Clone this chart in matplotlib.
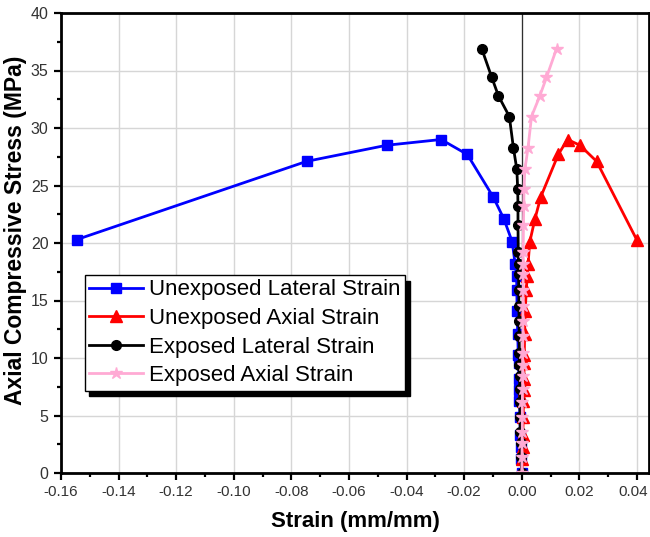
import matplotlib
matplotlib.use("Agg")
import matplotlib.pyplot as plt
import matplotlib.transforms as mtransforms
from matplotlib.ticker import MultipleLocator, FormatStrFormatter

plt.rcParams['font.family'] = ['Liberation Sans', 'DejaVu Sans']
plt.rcParams['axes.unicode_minus'] = False

# unexposed specimen: stress (MPa) with lateral / axial strain (mm/mm)
unexp_stress = [0, 1.2, 2.3, 3.3, 4.9, 6.3, 7.2, 8.2, 9.6, 10.3, 12.1, 14.1,
                15.9, 17.1, 18.2, 20.1, 22.1, 24.0, 27.7, 29.0, 28.5, 27.1, 20.3]
unexp_lat = [0, -0.0002, -0.0004, -0.0005, -0.0006, -0.0008, -0.0009, -0.0010,
             -0.0011, -0.0012, -0.0014, -0.0016, -0.0017, -0.0018, -0.0023,
             -0.0033, -0.0062, -0.0099, -0.0189, -0.0280, -0.0469, -0.0747, -0.1545]
unexp_ax = [0, 0.0002, 0.0003, 0.0004, 0.0005, 0.0006, 0.0007, 0.0008, 0.0008,
            0.0009, 0.0010, 0.0012, 0.0016, 0.0019, 0.0022, 0.0028, 0.0046,
            0.0066, 0.0127, 0.0159, 0.0202, 0.0260, 0.0399]

# exposed specimen
exp_stress = [0, 1.4, 2.6, 3.6, 4.9, 6.2, 7.3, 8.4, 9.4, 10.4, 11.9, 13.2, 14.5,
              15.9, 17.3, 18.2, 19.2, 21.6, 23.2, 24.7, 26.4, 28.3, 31.0, 32.8,
              34.4, 36.9]
exp_lat = [0, -0.0003, -0.0004, -0.0005, -0.0006, -0.0006, -0.0007, -0.0007,
           -0.0008, -0.0008, -0.0009, -0.0009, -0.0010, -0.0010, -0.0011,
           -0.0011, -0.0012, -0.0013, -0.0013, -0.0014, -0.0017, -0.0029,
           -0.0043, -0.0081, -0.0104, -0.0139]
exp_ax = [0, 0.0001, 0.0001, 0.0002, 0.0002, 0.0002, 0.0003, 0.0003, 0.0003,
          0.0003, 0.0004, 0.0004, 0.0004, 0.0005, 0.0005, 0.0005, 0.0005,
          0.0006, 0.0007, 0.0008, 0.0011, 0.0022, 0.0034, 0.0063, 0.0086, 0.0121]

labels = ["Unexposed Lateral Strain", "Unexposed Axial Strain",
          "Exposed Lateral Strain", "Exposed Axial Strain"]

fig = plt.figure(figsize=(6.5, 5.37), dpi=100)
ax = fig.add_axes([61 / 650, 1 - 473 / 537, (649 - 61) / 650, (473 - 13) / 537])

# light grid + zero line
ax.set_axisbelow(True)
ax.grid(True, which='major', color='#d6d6d6', lw=1.0)
ax.axvline(0, color='#303030', lw=0.9, zorder=1.5)

ax.plot(unexp_lat, unexp_stress, '-s', color='#0000ff', lw=2, ms=6.5, label=labels[0])
ax.plot(unexp_ax, unexp_stress, '-^', color='#ff0000', lw=2, ms=8, label=labels[1])
ax.plot(exp_lat, exp_stress, '-o', color='black', lw=2, ms=7, label=labels[2])
ax.plot(exp_ax, exp_stress, '-*', color='#ffaad4', lw=2, ms=9, label=labels[3])

ax.set_xlim(-0.16, 0.0442)
ax.set_ylim(0, 40)
ax.xaxis.set_major_locator(MultipleLocator(0.02))
ax.xaxis.set_minor_locator(MultipleLocator(0.01))
ax.xaxis.set_major_formatter(FormatStrFormatter('%.2f'))
ax.yaxis.set_major_locator(MultipleLocator(5))
ax.yaxis.set_minor_locator(MultipleLocator(2.5))

for s in ax.spines.values():
    s.set_linewidth(2)
ax.tick_params(which='both', direction='out', width=1.6, labelsize=11.5,
               labelcolor='#333333', pad=4)
ax.tick_params(axis='x', labelsize=11)
ax.tick_params(which='major', length=5)
ax.tick_params(which='minor', length=3)

ax.set_xlabel("Strain (mm/mm)", fontsize=16, fontweight='bold',
              family=['Liberation Sans Narrow', 'Liberation Sans'], labelpad=8)
ax.set_ylabel("Axial Compressive Stress (MPa)", fontsize=16.5, fontweight='bold')
ax.yaxis.set_label_coords(-0.058, 0.528)

# last x tick label sits at the figure edge: nudge it left a little
fig.canvas.draw()
last = [t for t in ax.get_xticklabels() if t.get_text() == '0.04']
for t in last:
    t.set_transform(t.get_transform() + mtransforms.ScaledTranslation(-4 / 100, 0, fig.dpi_scale_trans))

leg = ax.legend(loc='upper left', bbox_to_anchor=(85 / 650, 1 - 275 / 537),
                bbox_transform=fig.transFigure, borderaxespad=0, fancybox=False,
                edgecolor='black', framealpha=1, fontsize=16, handlelength=2.4,
                handletextpad=0.3, borderpad=0.2, labelspacing=0.34,
                shadow={'ox': 3, 'oy': -4, 'color': 'black', 'alpha': 1})
leg.get_frame().set_linewidth(1.0)

fig.savefig("out.png", dpi=100)
